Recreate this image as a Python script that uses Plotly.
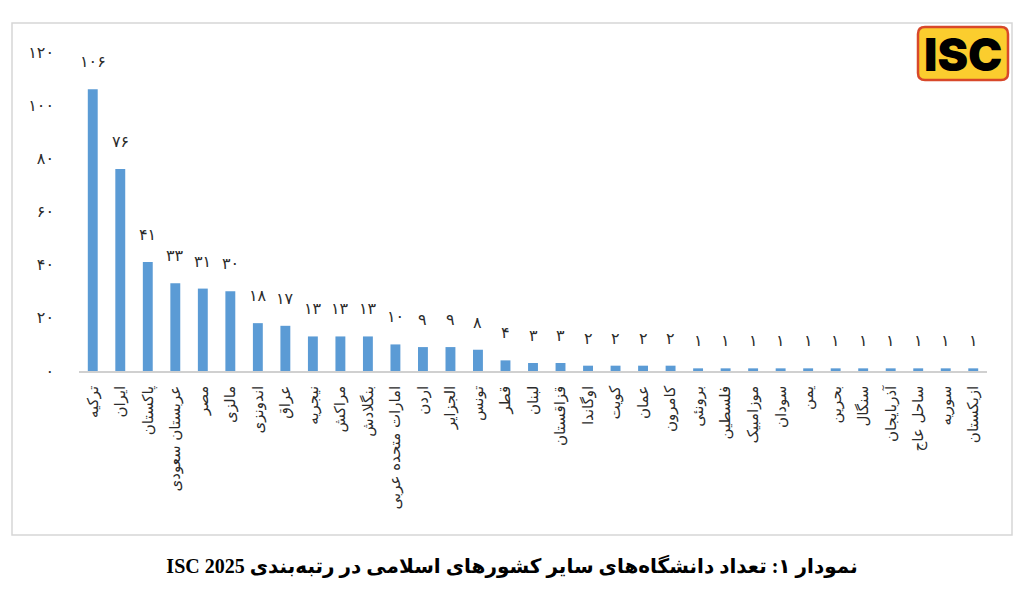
import plotly.graph_objects as go

countries = ["ترکیه", "ایران", "پاکستان", "عربستان سعودی", "مصر", "مالزی", "اندونزی",
             "عراق", "نیجریه", "مراکش", "بنگلادش", "امارات متحده عربی", "اردن", "الجزایر",
             "تونس", "قطر", "لبنان", "قزاقستان", "اوگاندا", "کویت", "عمان", "کامرون",
             "برونئی", "فلسطین", "موزامبیک", "سودان", "یمن", "بحرین", "سنگال",
             "آذربایجان", "ساحل عاج", "سوریه", "ازبکستان"]
universities = [106, 76, 41, 33, 31, 30, 18, 17, 13, 13, 13, 10, 9, 9, 8, 4, 3, 3,
                2, 2, 2, 2, 1, 1, 1, 1, 1, 1, 1, 1, 1, 1, 1]
y_ticks = [0, 20, 40, 60, 80, 100, 120]
title_text = "نمودار ۱: تعداد دانشگاه‌های سایر کشورهای اسلامی در رتبه‌بندی ISC 2025"

PERSIAN = str.maketrans("0123456789", "۰۱۲۳۴۵۶۷۸۹")
def fa(n):
    return str(n).translate(PERSIAN)

W, H = 1024, 601
L, R, T, B = 79, 987, 52, 371  # plot area in px

def px_x(x):
    return (x - L) / (R - L)
def px_y(y):
    return (B - y) / (B - T)

FONT = "DejaVu Sans"
TXT = "#2b2b2b"

fig = go.Figure()
fig.add_trace(go.Bar(
    x=countries, y=universities,
    marker=dict(color="#5b9bd5", line=dict(width=0)),
    width=0.36, hoverinfo="x+y",
))

for c, v in zip(countries, universities):
    fig.add_annotation(x=c, y=v, text=fa(v), showarrow=False, yanchor="bottom",
                       yshift=16, font=dict(family=FONT, size=16, color=TXT))

shapes = [
    dict(type="rect", xref="paper", yref="paper",
         x0=px_x(12), x1=px_x(1012), y0=px_y(535), y1=px_y(23),
         line=dict(color="#d6d6d6", width=1.5), fillcolor="rgba(0,0,0,0)", layer="below"),
]
# logo box (rounded)
lx0, lx1, ly0, ly1, rr = 918, 1008, 27, 80, 7
path = (f"M {px_x(lx0+rr)},{px_y(ly0)} L {px_x(lx1-rr)},{px_y(ly0)} "
        f"Q {px_x(lx1)},{px_y(ly0)} {px_x(lx1)},{px_y(ly0+rr)} "
        f"L {px_x(lx1)},{px_y(ly1-rr)} Q {px_x(lx1)},{px_y(ly1)} {px_x(lx1-rr)},{px_y(ly1)} "
        f"L {px_x(lx0+rr)},{px_y(ly1)} Q {px_x(lx0)},{px_y(ly1)} {px_x(lx0)},{px_y(ly1-rr)} "
        f"L {px_x(lx0)},{px_y(ly0+rr)} Q {px_x(lx0)},{px_y(ly0)} {px_x(lx0+rr)},{px_y(ly0)} Z")
shapes.append(dict(type="path", xref="paper", yref="paper", path=path,
                   fillcolor="#fbcd2e", line=dict(color="#d8482a", width=2.5)))

fig.add_annotation(xref="paper", yref="paper", x=px_x(963), y=px_y(54),
                   text="ISC", showarrow=False, xanchor="center", yanchor="middle",
                   font=dict(family="Inter, Roboto, DejaVu Sans", size=46, color="#000000",
                             weight=900))

fig.update_layout(
    width=W, height=H,
    margin=dict(l=L, r=W - R, t=T, b=H - B, pad=0),
    paper_bgcolor="white", plot_bgcolor="white",
    showlegend=False, bargap=0.64,
    shapes=shapes,
    title=dict(text="\u202b" + title_text + "\u202c", x=0.5, xanchor="center",
               y=1 - 566 / H, yanchor="middle", yref="container",
               font=dict(family="Liberation Serif, DejaVu Sans", size=20, color="#000000",
                         weight="bold")),
    xaxis=dict(type="category", tickangle=-90, showgrid=False, showline=True,
               linecolor="#d0d0d0", linewidth=1.5, ticks="", ticklabelstandoff=7,
               tickfont=dict(family=FONT, size=15, color=TXT), range=[-0.5, len(countries) - 0.5]),
    yaxis=dict(range=[0, 120], tickvals=y_ticks, ticktext=[fa(t) for t in y_ticks],
               showgrid=False, zeroline=False, showline=False, ticks="",
               ticklabelstandoff=24, tickfont=dict(family=FONT, size=16, color=TXT)),
)

fig.write_html("out.html")
